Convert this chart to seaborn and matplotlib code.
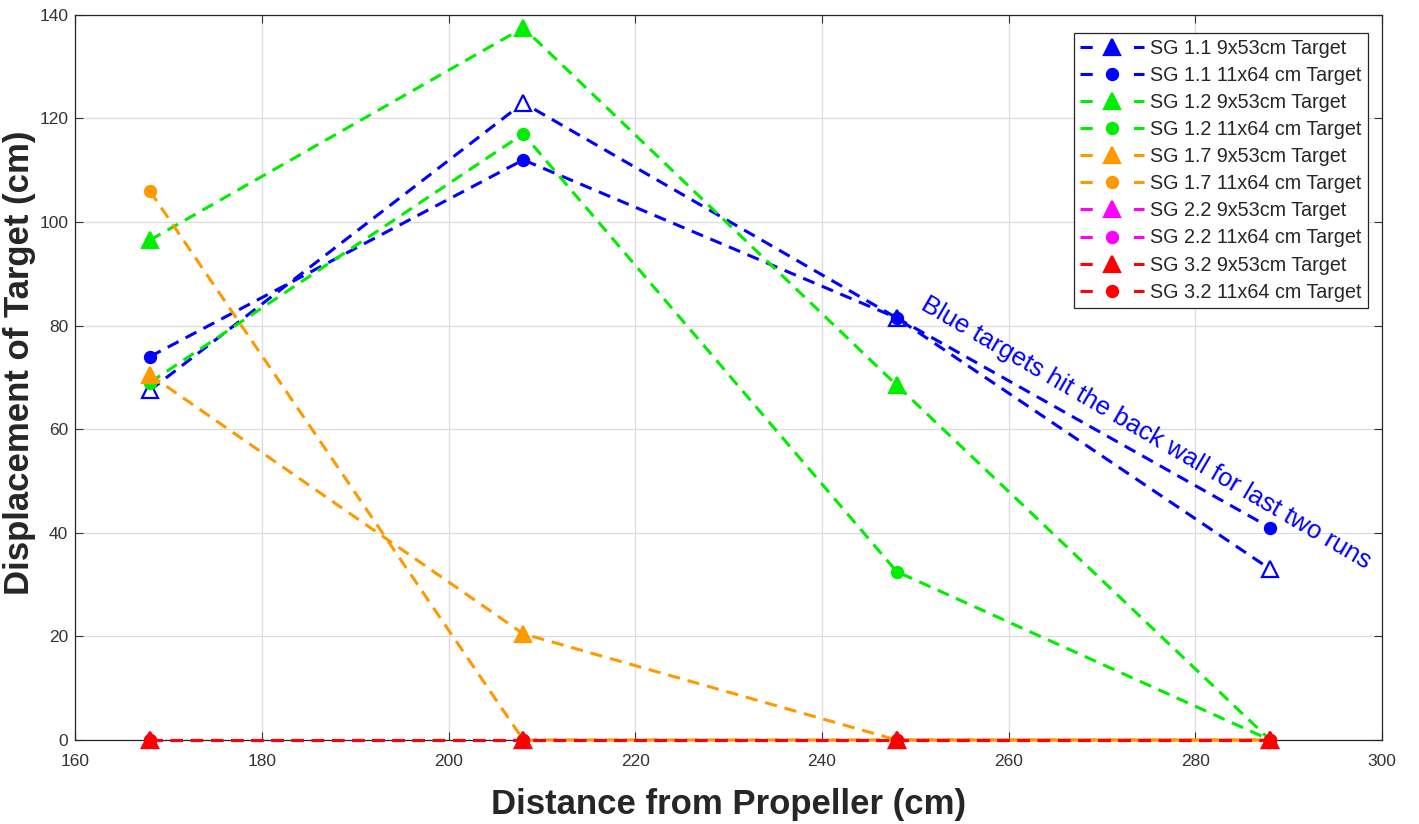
import matplotlib
matplotlib.use("Agg")
import matplotlib.pyplot as plt
import seaborn as sns

# distances from propeller (cm)
distance = [168, 208, 248, 288]

# displacement of target (cm)
sg11_small = [67.5, 123, 81.5, 33]
sg11_large = [74, 112, 81.5, 41]
sg12_small = [96.5, 137.5, 68.5, 0]
sg12_large = [69, 117, 32.5, 0]
sg17_small = [70.5, 20.5, 0, 0]
sg17_large = [106, 0, 0, 0]
sg22_small = [0, 0, 0, 0]
sg22_large = [0, 0, 0, 0]
sg32_small = [0, 0, 0, 0]
sg32_large = [0, 0, 0, 0]

series = [
    ("SG 1.1 9x53cm Target", sg11_small, "#0000FF", "^", True),
    ("SG 1.1 11x64 cm Target", sg11_large, "#0000FF", "o", False),
    ("SG 1.2 9x53cm Target", sg12_small, "#00EE00", "^", False),
    ("SG 1.2 11x64 cm Target", sg12_large, "#00EE00", "o", False),
    ("SG 1.7 9x53cm Target", sg17_small, "#FF9900", "^", False),
    ("SG 1.7 11x64 cm Target", sg17_large, "#FF9900", "o", False),
    ("SG 2.2 9x53cm Target", sg22_small, "#FF00FF", "^", False),
    ("SG 2.2 11x64 cm Target", sg22_large, "#FF00FF", "o", False),
    ("SG 3.2 9x53cm Target", sg32_small, "#FF0000", "^", False),
    ("SG 3.2 11x64 cm Target", sg32_large, "#FF0000", "o", False),
]

sns.set_theme(style="whitegrid")
plt.rcParams["font.family"] = ["Liberation Sans", "DejaVu Sans"]

fig = plt.figure(figsize=(14.19, 8.24), dpi=100)
ax = fig.add_axes([0.053, 0.102, 0.921, 0.880])

for label, values, color, marker, hollow in series:
    ms = 12 if marker == "^" else 8
    sns.lineplot(
        x=distance, y=values, ax=ax, color=color, marker=marker,
        linestyle=(0, (4, 2.6)), linewidth=2.2, markersize=ms, label=label,
        markeredgecolor=color, markeredgewidth=1.6,
        markerfacecolor=("white" if hollow else color),
        clip_on=False, zorder=3,
    )

ax.set_xlim(160, 300)
ax.set_ylim(0, 140)
ax.set_xticks(range(160, 301, 20))
ax.set_yticks(range(0, 141, 20))
ax.tick_params(axis="both", labelsize=12.5, colors="#333333", direction="in",
               length=6, width=0.8, bottom=True, left=True, top=True, right=True)
ax.tick_params(axis="x", pad=10)
ax.tick_params(axis="y", pad=5)
ax.grid(True, color="#dcdcdc", linewidth=0.9)
for s in ax.spines.values():
    s.set_visible(True)
    s.set_color("#262626")
    s.set_linewidth(0.9)
    s.set_zorder(2.5)

ax.set_xlabel("Distance from Propeller (cm)", fontsize=25, fontweight="bold",
              color="#262626", labelpad=14)
ax.set_ylabel("Displacement of Target (cm)", fontsize=25, fontweight="bold",
              color="#262626")
ax.yaxis.set_label_coords(-0.030, 0.52)

ax.text(251.5, 86.5, "Blue targets hit the back wall for last two runs",
        color="#0000FF", fontsize=18.5, rotation=-30.3, rotation_mode="anchor",
        ha="left", va="top")

leg = ax.legend(loc="upper right", fontsize=14.2, frameon=True, fancybox=False,
                edgecolor="#262626", framealpha=1, borderpad=0.3,
                labelspacing=0.41, handlelength=3.25, handletextpad=0.3,
                borderaxespad=0, bbox_to_anchor=(0.989, 0.975))
leg.get_frame().set_linewidth(0.9)
for t in leg.get_texts():
    t.set_color("#262626")
for h in leg.legend_handles:
    h.set_markerfacecolor(h.get_color())
    h.set_linestyle((0, (4, 13.5)))

fig.savefig("out.png", dpi=100)
